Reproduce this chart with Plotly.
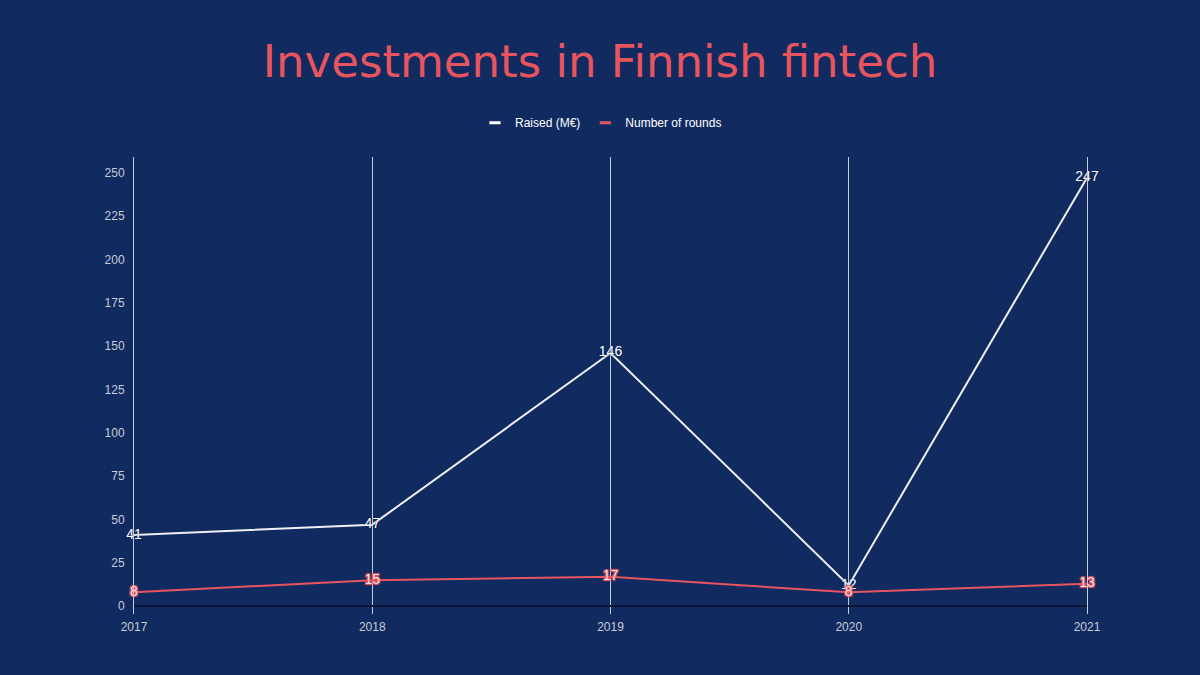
import plotly.graph_objects as go

years = [2017, 2018, 2019, 2020, 2021]
raised = [41, 47, 146, 12, 247]
rounds = [8, 15, 17, 8, 13]
y_ticks = [0, 25, 50, 75, 100, 125, 150, 175, 200, 225, 250]

bg = "#112a5f"
coral = "#e8555f"
axis_text = "#c8ccd8"
white_line = "#eef0f4"

fig = go.Figure()

fig.add_trace(go.Scatter(
    x=years, y=raised,
    mode="lines+text",
    name="Raised (M€)",
    showlegend=False,
    cliponaxis=False,
    line=dict(color=white_line, width=2),
    text=[str(v) for v in raised],
    textposition="middle center",
    textfont=dict(family="Liberation Sans, Arial", size=14, color="#ffffff",
                  shadow="0px 0px 2px #112a5f"),
))

fig.add_trace(go.Scatter(
    x=years, y=rounds,
    mode="lines+text",
    name="Number of rounds",
    showlegend=False,
    cliponaxis=False,
    line=dict(color=coral, width=2),
    text=[str(v) for v in rounds],
    textposition="middle center",
    textfont=dict(family="Liberation Sans, Arial", size=14, color="#ffe0e2",
                  shadow="1px 1px 1px #e8555f, -1px -1px 1px #e8555f, 1px -1px 1px #e8555f, -1px 1px 1px #e8555f"),
))

# legend-only entries with short thick dash symbols
for name, color in [("Raised (M€)", "#ffffff"), ("Number of rounds", coral)]:
    fig.add_trace(go.Scatter(
        x=[None], y=[None],
        mode="markers",
        name=name,
        marker=dict(symbol="line-ew-open", size=8, color=color, line=dict(color=color, width=3)),
    ))

fig.update_layout(
    width=1200, height=675,
    paper_bgcolor=bg, plot_bgcolor=bg,
    margin=dict(l=134, r=113, t=157, b=61),
    title=dict(
        text="Investments in Finnish fintech",
        x=0.5, xanchor="center", y=0.91, yanchor="middle",
        font=dict(family="DejaVu Sans", size=45, color=coral),
    ),
    legend=dict(
        orientation="h", x=0.49, xanchor="center", y=1.075, yanchor="middle",
        font=dict(family="Liberation Sans, Arial", size=12, color="#ffffff"),
        bgcolor="rgba(0,0,0,0)",
        itemwidth=30,
    ),
    xaxis=dict(
        range=[2017, 2021],
        tickvals=years, ticktext=[str(y) for y in years],
        showgrid=True, gridcolor="#c8ccd8", gridwidth=1,
        zeroline=False, showline=False,
        tickfont=dict(family="Liberation Sans, Arial", size=12, color=axis_text),
        ticks="", ticklabelstandoff=4,
    ),
    yaxis=dict(
        range=[-4.5, 259],
        tickvals=y_ticks,
        showgrid=False,
        zeroline=True, zerolinecolor="#0a1838", zerolinewidth=2,
        showline=True, mirror=True, linecolor="#c8ccd8", linewidth=1,
        tickfont=dict(family="Liberation Sans, Arial", size=12, color=axis_text),
        ticks="", ticklabelstandoff=6,
    ),
)

fig.write_html(
    "out.html",
    config={"displayModeBar": False},
    post_script="document.body.style.margin='0';document.body.style.background='#112a5f';",
)
